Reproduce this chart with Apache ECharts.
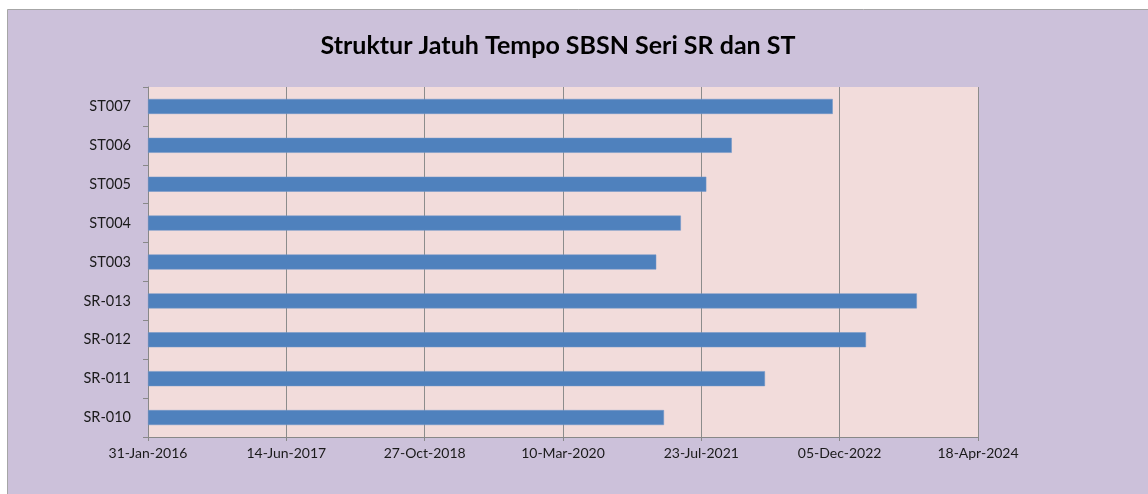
<!DOCTYPE html>
<html>
<head>
<meta charset="utf-8">
<script src="https://cdn.jsdelivr.net/npm/echarts@6/dist/echarts.min.js"></script>
<style>
  html, body { margin: 0; padding: 0; background: #fff; }
  #main { width: 1148px; height: 494px; }
</style>
</head>
<body>
<div id="main"></div>
<script>
// seri, dari bawah ke atas
var seri = ['SR-010', 'SR-011', 'SR-012', 'SR-013', 'ST003', 'ST004', 'ST005', 'ST006', 'ST007'];
// tanggal jatuh tempo
var jatuhTempo = ['2021-03-10', '2022-03-10', '2023-03-10', '2023-09-10', '2021-02-10', '2021-05-10', '2021-08-10', '2021-11-10', '2022-11-10'];
// awal sumbu dan jarak tick (hari)
var tglAwal = '2016-01-31';
var jarakHari = 500;
var jumlahTick = 6;

var bulan = ['Jan','Feb','Mar','Apr','May','Jun','Jul','Aug','Sep','Oct','Nov','Dec'];
var DAY = 86400000;

function toUTC(s) {
	var t = s.split('-');
	return Date.UTC(+t[0], +t[1] - 1, +t[2]);
}
var base = toUTC(tglAwal);

function hari(s) {
	return Math.round((toUTC(s) - base) / DAY);
}
function fmt(v) {
	var d = new Date(base + v * DAY);
	var dd = d.getUTCDate();
	return (dd < 10 ? '0' + dd : dd) + '-' + bulan[d.getUTCMonth()] + '-' + d.getUTCFullYear();
}

var nilai = jatuhTempo.map(hari);

var myChart = echarts.init(document.getElementById('main'));
var option = {
	backgroundColor: '#ffffff',
	animation: false,
	textStyle: { fontFamily: 'Lato' },
	graphic: [{
		type: 'rect',
		z: -10,
		silent: true,
		shape: { x: 7.5, y: 9.5, width: 1160, height: 500 },
		style: { fill: '#CCC1DA', stroke: '#A6A6A6', lineWidth: 1 }
	}],
	title: {
		text: 'Struktur Jatuh Tempo SBSN Seri SR dan ST',
		left: 553,
		textAlign: 'center',
		top: 28,
		textStyle: { fontFamily: 'Lato', fontWeight: 'bold', fontSize: 25, color: '#000' }
	},
	grid: {
		left: 148,
		top: 87,
		right: 170,
		bottom: 57,
		show: true,
		backgroundColor: '#F2DCDB',
		borderWidth: 0
	},
	xAxis: {
		type: 'value',
		min: 0,
		max: jarakHari * jumlahTick,
		interval: jarakHari,
		axisLine: { show: true, lineStyle: { color: '#888', width: 1 } },
		axisTick: { show: true, length: 4, lineStyle: { color: '#888' } },
		splitLine: { show: true, lineStyle: { color: '#8C8C8C', width: 1 } },
		axisLabel: {
			formatter: fmt,
			color: '#1a1a1a',
			fontSize: 14,
			margin: 9,
			fontFamily: 'Lato'
		}
	},
	yAxis: {
		type: 'category',
		data: seri,
		axisLine: { show: true, lineStyle: { color: '#888', width: 1 } },
		axisTick: { show: true, length: 5, lineStyle: { color: '#888' } },
		splitLine: { show: false },
		axisLabel: { color: '#1a1a1a', fontSize: 14.5, margin: 17, fontFamily: 'Lato' }
	},
	series: [{
		type: 'bar',
		data: nilai,
		barWidth: 15,
		itemStyle: { color: '#4F81BD', borderColor: '#7096C8', borderWidth: 0.5 }
	}]
};
myChart.setOption(option);
</script>
</body>
</html>
